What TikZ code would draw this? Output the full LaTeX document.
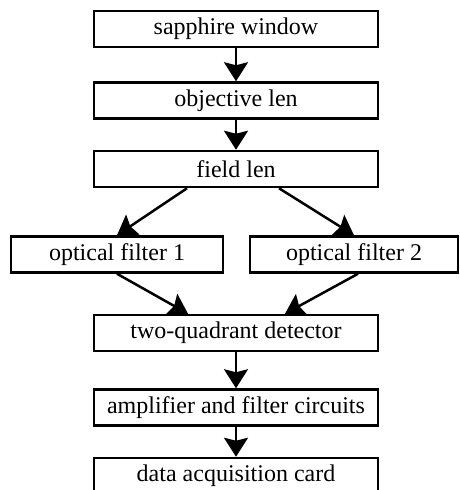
\documentclass[tikz,border=0pt]{standalone}
\usepackage{fontspec}
\setmainfont{Liberation Serif}
\usetikzlibrary{positioning}
\usetikzlibrary {arrows.meta}
\tikzset{flowbox/.style={rectangle,draw=black,fill=white,line width=2.5pt,
inner sep=2pt,minimum height=36pt, minimum width=284pt,font=\fontsize{24}{28}\selectfont}}
\tikzset{filterbox/.style={flowbox,minimum width=212pt}}
\tikzset{flowarrow/.style={line width=2.5pt,-{Stealth[length=19pt,width=24pt,inset=3pt]}}}

\begin{document}
\begin{tikzpicture}[x=1pt,y=1pt]

        \useasboundingbox (0,0) rectangle (460,-490);

        \node[flowbox] (window) at (236,-29) {sapphire window};
        \node[flowbox] (objective) [below=33pt of window] {objective len};
        \node[flowbox] (fieldlen) [below=30pt of objective] {field len};

        \node[filterbox] (filterA) [below=47pt of fieldlen, xshift=-119pt] {optical filter 1};
        \node[filterbox, minimum width=208pt] (filterB) [below=47pt of fieldlen, xshift=118pt] {optical filter 2};

        \node[flowbox] (detector) [below=40pt of filterA, xshift=119pt] {two-quadrant detector};
        \node[flowbox] (amplifier) [below=36pt of detector] {amplifier and filter circuits};
        \node[flowbox] (daq) [below=30pt of amplifier] {data acquisition card};

        \draw [flowarrow] (window) -- (objective);
        \draw [flowarrow] (objective) -- (fieldlen);

        \draw [flowarrow] ([xshift=-49pt]fieldlen.south) -- (filterA.north);
        \draw [flowarrow] ([xshift=43pt]fieldlen.south) -- (filterB.north);

        \draw [flowarrow] (filterA.south) -- ([xshift=-48pt]detector.north);
        \draw [flowarrow] ([xshift=4pt]filterB.south) -- ([xshift=49pt]detector.north);

        \draw [flowarrow] (detector) -- (amplifier);
        \draw [flowarrow] (amplifier) -- (daq);

    \end{tikzpicture}
\end{document}
